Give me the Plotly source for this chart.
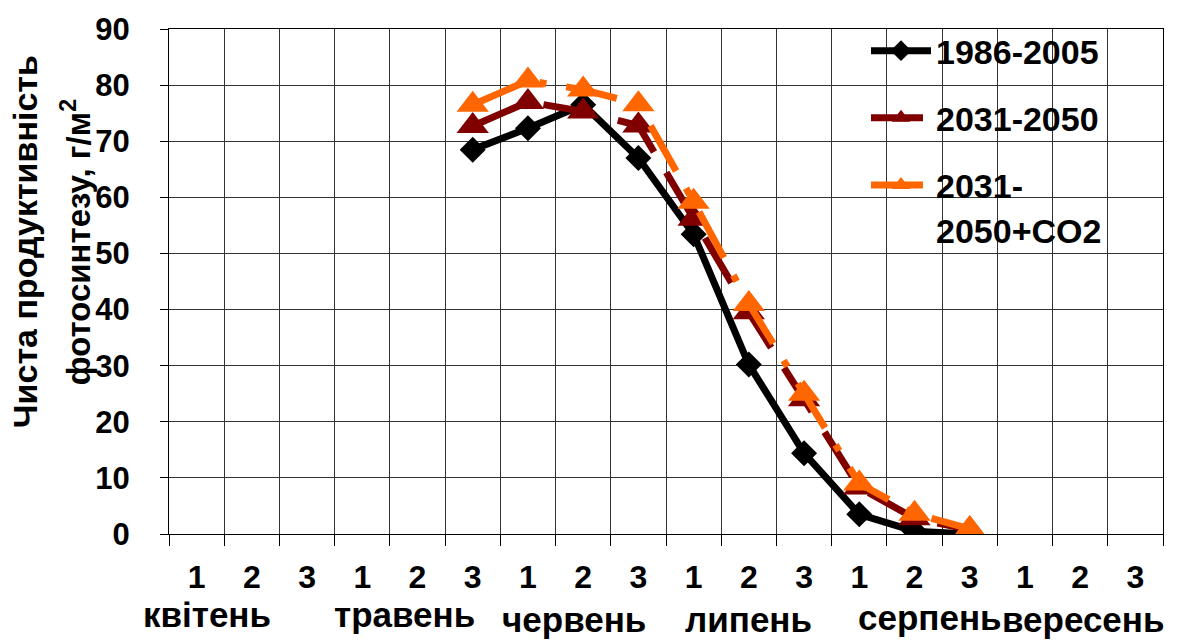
import plotly.graph_objects as go

# ---- data ----
months = ["квітень", "травень", "червень", "липень", "серпень", "вересень"]
decades = ["1", "2", "3"]
tick_labels = [d for m in months for d in decades]  # 18 categories

# values per decade (None = no data)
base_1986_2005 = [None, None, None, None, None, 68.5, 72.3, 76.5, 67.0, 53.4, 30.2, 14.4, 3.5, 0.5, 0.0, None, None, None]
scen_2031_2050 = [None, None, None, None, None, 72.7, 77.0, 75.3, 72.8, 56.2, 39.5, 24.0, 8.3, 2.8, 0.8, None, None, None]
scen_2031_2050_co2 = [None, None, None, None, None, 76.5, 80.8, 79.2, 76.6, 59.2, 41.0, 25.0, 9.0, 3.6, 0.9, None, None, None]

series_names = ["1986-2005", "2031-2050", "2031-<br>2050+CO2"]

x_idx = list(range(len(tick_labels)))

FONT = "Arial, Liberation Sans, sans-serif"

fig = go.Figure()
fig.add_trace(go.Scatter(
    x=x_idx, y=base_1986_2005, name=series_names[0], mode="lines+markers",
    line=dict(color="#000000", width=7),
    marker=dict(symbol="diamond", size=20, color="#000000"),
    legendgroup="a",
))
fig.add_trace(go.Scatter(
    x=x_idx, y=scen_2031_2050, name=series_names[1], mode="lines+markers",
    line=dict(color="#800000", width=7, dash="52px,24px"),
    marker=dict(symbol="triangle-up", size=28, color="#800000"),
    legendgroup="b",
))
fig.add_trace(go.Scatter(
    x=x_idx, y=scen_2031_2050_co2, name=series_names[2], mode="lines+markers",
    line=dict(color="#FF6600", width=7, dash="52px,20px,7px,20px"),
    marker=dict(symbol="triangle-up", size=28, color="#FF6600"),
    legendgroup="c",
))

L, R, T, B = 169, 29, 25, 109
W, H = 1192, 643
pw, ph = W - L - R, H - T - B

def px_x(px):
    return (px - L) / pw

def px_y(py):
    return (H - B - py) / ph

annotations = []
# y-axis title (two lines)
annotations.append(dict(text="<b>Чиста продуктивність</b>", x=px_x(25), y=px_y(240),
                        xref="paper", yref="paper", textangle=-90, showarrow=False,
                        xanchor="center", yanchor="middle",
                        font=dict(family=FONT, size=34, color="black")))
annotations.append(dict(text="<b>фотосинтезу, г/м<sup>2</sup></b>", x=px_x(76), y=px_y(240),
                        xref="paper", yref="paper", textangle=-90, showarrow=False,
                        xanchor="center", yanchor="middle",
                        font=dict(family=FONT, size=33, color="black")))
# month labels
month_x = [207, 404, 574, 748, 930, 1083]
month_y = [615, 615, 620, 620, 618, 620]
for m, mx, my in zip(months, month_x, month_y):
    annotations.append(dict(text="<b>" + m + "</b>", x=px_x(mx), y=px_y(my),
                            xref="paper", yref="paper", showarrow=False,
                            xanchor="center", yanchor="middle",
                            font=dict(family=FONT, size=35, color="black")))

fig.update_layout(
    width=W, height=H,
    margin=dict(l=L, r=R, t=T, b=B, pad=0),
    paper_bgcolor="white", plot_bgcolor="white",
    font=dict(family=FONT, color="black"),
    showlegend=True,
    legend=dict(
        x=px_x(866), y=px_y(18), xanchor="left", yanchor="top",
        bgcolor="rgba(0,0,0,0)", borderwidth=0,
        font=dict(family=FONT, size=34, color="black", weight="bold"),
        traceorder="grouped", tracegroupgap=20, valign="top",
        itemwidth=60,
    ),
    annotations=annotations,
    xaxis=dict(
        range=[-0.5, 17.5],
        tickmode="array", tickvals=x_idx, ticktext=tick_labels,
        tickfont=dict(family=FONT, size=32, color="black", weight="bold"),
        ticks="", showgrid=False, zeroline=False,
        showline=True, linecolor="black", linewidth=1, mirror=True,
        ticklabelstandoff=15,
        minor=dict(tickmode="linear", tick0=-0.5, dtick=1, showgrid=True,
                   gridcolor="#333333", gridwidth=1, ticks="outside",
                   ticklen=11, tickcolor="black", tickwidth=1),
    ),
    yaxis=dict(
        range=[0, 90], dtick=10, tick0=0,
        tickfont=dict(family=FONT, size=31, color="black", weight="bold"),
        ticks="outside", ticklen=8, tickcolor="black", tickwidth=1,
        showgrid=True, gridcolor="#333333", gridwidth=1, zeroline=False,
        showline=True, linecolor="black", linewidth=1, mirror=True,
        ticklabelstandoff=24,
    ),
)

fig.write_html("out.html")
